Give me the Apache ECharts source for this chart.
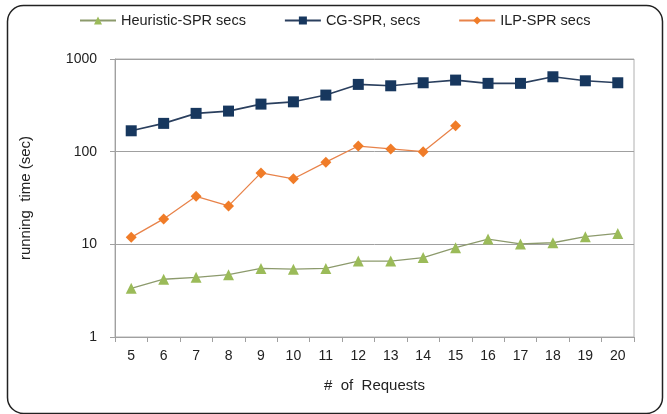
<!DOCTYPE html>
<html><head><meta charset="utf-8">
<script src="https://cdn.jsdelivr.net/npm/echarts@6/dist/echarts.min.js"></script>
<style>html,body{margin:0;padding:0;background:#fff}#c{width:667px;height:414px}</style>
</head><body><div id="c"></div>
<script>
const categories = ['5','6','7','8','9','10','11','12','13','14','15','16','17','18','19','20'];
const heuristic = [3.35,4.2,4.4,4.7,5.5,5.4,5.5,6.6,6.6,7.2,9.2,11.4,10.1,10.4,12.1,13.1];
const cg = [168,202,259,274,326,345,408,532,514,554,592,546,546,643,582,554];
const ilp = [11.9,18.8,33,26,59,51,77,115,107,100,190,null,null,null,null,null];
const seriesNames = ['Heuristic-SPR secs','CG-SPR, secs','ILP-SPR secs'];

const chart = echarts.init(document.getElementById('c'));
const font = 'Liberation Sans, Arial, sans-serif';
chart.setOption({
  animation:false,
  textStyle:{fontFamily:font},
  graphic:[{type:'rect',left:5,top:3,shape:{width:655,height:408,r:16},style:{fill:'none',stroke:'#222',lineWidth:1.5},silent:true}],
  legend:{top:8,left:74,itemWidth:36,itemHeight:10,itemGap:38,
    textStyle:{fontSize:14.5,color:'#222',fontFamily:font},
    data:seriesNames},
  grid:{left:115,right:33,top:59,bottom:77,show:true,borderColor:'#b0b0b0',borderWidth:1},
  xAxis:{type:'category',data:categories,boundaryGap:true,
    name:'#  of  Requests',nameLocation:'middle',nameGap:41,
    nameTextStyle:{fontSize:15,color:'#222',fontFamily:font},
    axisLine:{lineStyle:{color:'#a0a0a0'}},
    axisTick:{show:true,length:5,lineStyle:{color:'#a0a0a0'}},
    axisLabel:{fontSize:14,color:'#222',margin:12}},
  yAxis:{type:'log',logBase:10,min:1,max:1000,
    name:'running  time (sec)',nameLocation:'middle',nameGap:82,
    nameTextStyle:{fontSize:15,color:'#222',fontFamily:font},
    axisLine:{show:true,lineStyle:{color:'#a0a0a0'}},
    axisTick:{show:true,length:5,lineStyle:{color:'#a0a0a0'}},
    splitLine:{show:true,lineStyle:{color:'#a0a0a0'}},
    minorSplitLine:{show:false},
    axisLabel:{fontSize:14,color:'#222',margin:18,formatter:function(v){return String(Math.round(v));}}},
  series:[
    {name:seriesNames[0],type:'line',data:heuristic,symbol:'triangle',symbolSize:11,
     itemStyle:{color:'#9BBB59'},lineStyle:{color:'#8c9a6c',width:1.3}},
    {name:seriesNames[1],type:'line',data:cg,symbol:'rect',symbolSize:11,
     itemStyle:{color:'#17375E'},lineStyle:{color:'#2a3f5e',width:1.6}},
    {name:seriesNames[2],type:'line',data:ilp,symbol:'diamond',symbolSize:11,connectNulls:false,
     itemStyle:{color:'#F07C28'},lineStyle:{color:'#E8834A',width:1.3}}
  ]
});
</script></body></html>
